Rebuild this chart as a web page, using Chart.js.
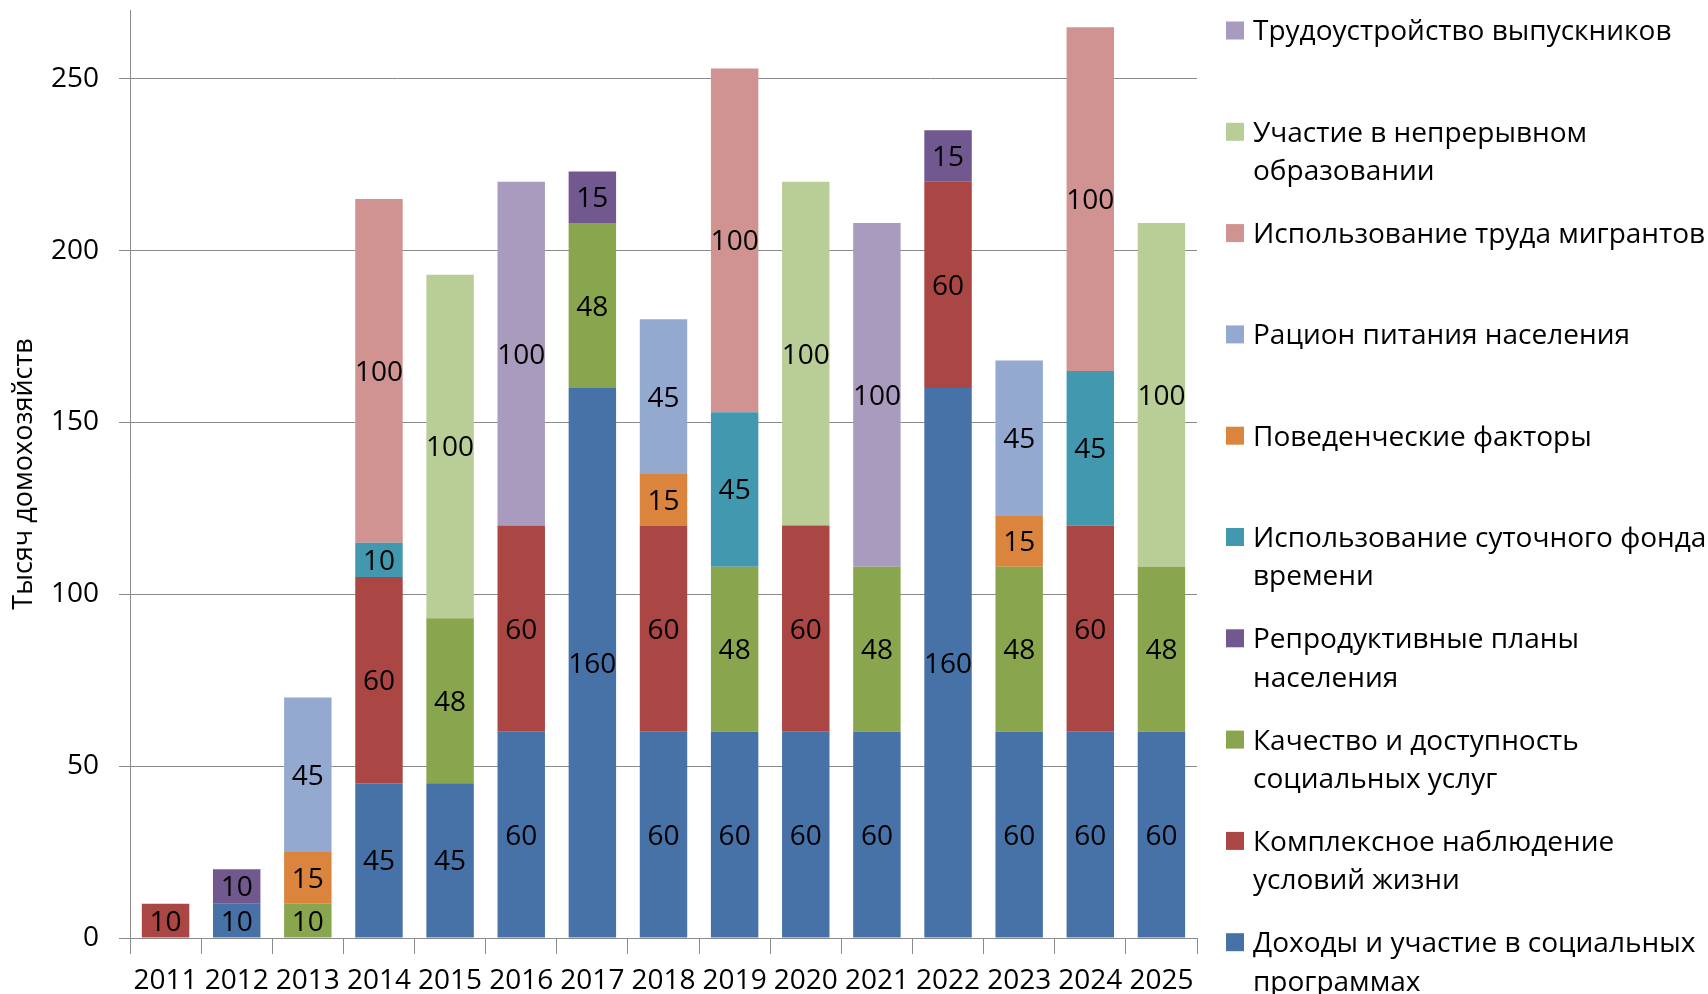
<!DOCTYPE html>
<html>
<head>
<meta charset="utf-8">
<script src="https://cdn.jsdelivr.net/npm/chart.js@4/dist/chart.umd.min.js"></script>
<style>
html,body{margin:0;padding:0;background:#fff;}
#c{display:block;}
</style>
</head>
<body>
<canvas id="c" width="1708" height="994"></canvas>
<script>
const categories = ['2011','2012','2013','2014','2015','2016','2017','2018','2019','2020','2021','2022','2023','2024','2025'];

// series, bottom of stack to top
const incomes          = [null,10,null,45,45,60,160,60,60,60,60,160,60,60,60];
const livingConditions = [10,null,null,60,null,60,null,60,null,60,null,60,null,60,null];
const socialServices   = [null,null,10,null,48,null,48,null,48,null,48,null,48,null,48];
const reproductive     = [null,10,null,null,null,null,15,null,null,null,null,15,null,null,null];
const timeUse          = [null,null,null,10,null,null,null,null,45,null,null,null,null,45,null];
const behavioral       = [null,null,15,null,null,null,null,15,null,null,null,null,15,null,null];
const nutrition        = [null,null,45,null,null,null,null,45,null,null,null,null,45,null,null];
const migrants         = [null,null,null,100,null,null,null,null,100,null,null,null,null,100,null];
const education        = [null,null,null,null,100,null,null,null,null,100,null,null,null,null,100];
const graduates        = [null,null,null,null,null,100,null,null,null,null,100,null,null,null,null];

const seriesNames = [
  'Доходы и участие в социальных\nпрограммах',
  'Комплексное наблюдение\nусловий жизни',
  'Качество и доступность\nсоциальных услуг',
  'Репродуктивные планы\nнаселения',
  'Использование суточного фонда\nвремени',
  'Поведенческие факторы',
  'Рацион питания населения',
  'Использование труда мигрантов',
  'Участие в непрерывном\nобразовании',
  'Трудоустройство выпускников'
];
const seriesColors = ['#4672A8','#AA4644','#89A54E','#71588F','#4198AF','#DB843D','#93A9D0','#D09392','#B9CD97','#A99BBD'];
const seriesValues = [incomes, livingConditions, socialServices, reproductive, timeUse, behavioral, nutrition, migrants, education, graduates];

const yTicks = [0,50,100,150,200,250];
const yMax = 270;
const yTitle = 'Тысяч домохозяйств';

const FONT = "'Open Sans', 'DejaVu Sans', sans-serif";

const datasets = seriesValues.map((vals, i) => ({
  label: seriesNames[i],
  data: vals,
  backgroundColor: seriesColors[i],
  borderWidth: 0,
  barPercentage: 0.667,
  categoryPercentage: 1.0
}));

const valueLabels = {
  id: 'valueLabels',
  afterDatasetsDraw(chart) {
    const ctx = chart.ctx;
    ctx.save();
    ctx.font = '28px ' + FONT;
    ctx.fillStyle = '#000';
    ctx.textAlign = 'center';
    ctx.textBaseline = 'middle';
    chart.data.datasets.forEach((ds, di) => {
      const meta = chart.getDatasetMeta(di);
      meta.data.forEach((el, i) => {
        const v = ds.data[i];
        if (v === null || v === undefined) return;
        const p = el.getProps(['x','y','base'], true);
        ctx.fillText(String(v), p.x, (p.y + p.base) / 2 + 2);
      });
    });
    ctx.restore();
  }
};

const sideLegend = {
  id: 'sideLegend',
  afterDraw(chart) {
    const ctx = chart.ctx;
    ctx.save();
    ctx.font = '28px ' + FONT;
    ctx.textAlign = 'left';
    ctx.textBaseline = 'middle';
    const ds = chart.data.datasets;
    const n = ds.length;
    for (let k = 0; k < n; k++) {
      const d = ds[n - 1 - k];
      const yc = 30.5 + k * 101.3;
      ctx.fillStyle = d.backgroundColor;
      ctx.fillRect(1226, yc - 9, 18, 18);
      ctx.fillStyle = '#000';
      d.label.split('\n').forEach((line, li) => {
        ctx.fillText(line, 1253, yc + li * 38.5 + 2);
      });
    }
    ctx.restore();
  }
};

new Chart(document.getElementById('c'), {
  type: 'bar',
  data: { labels: categories, datasets },
  plugins: [valueLabels, sideLegend],
  options: {
    responsive: false,
    devicePixelRatio: 1,
    animation: false,
    layout: { padding: { top: 10, right: 511, bottom: 0, left: 0 } },
    plugins: { legend: { display: false }, tooltip: { enabled: false } },
    scales: {
      x: {
        stacked: true,
        offset: true,
        grid: { display: true, drawOnChartArea: false, drawTicks: true, tickLength: 16, color: '#8a8a8a', offset: true },
        border: { display: true, color: '#8a8a8a', width: 1 },
        ticks: { font: { family: FONT, size: 28 }, color: '#000', padding: 10, maxRotation: 0, autoSkip: false },
        afterFit(s) { s.height = 56; s.paddingLeft = 0; s.paddingRight = 0; }
      },
      y: {
        stacked: true,
        min: 0,
        max: yMax,
        afterBuildTicks(s) { s.ticks = yTicks.map(v => ({ value: v })); },
        ticks: { font: { family: FONT, size: 28 }, color: '#000', padding: 20 },
        grid: { color: '#8a8a8a', tickLength: 11, drawTicks: true },
        border: { display: true, color: '#8a8a8a', width: 1 },
        title: { display: true, text: yTitle, font: { family: FONT, size: 27 }, color: '#000', padding: { top: 8, bottom: 0 } },
        afterFit(s) { s.width = 130; s.paddingTop = 0; s.paddingBottom = 0; }
      }
    }
  }
});
</script>
</body>
</html>
